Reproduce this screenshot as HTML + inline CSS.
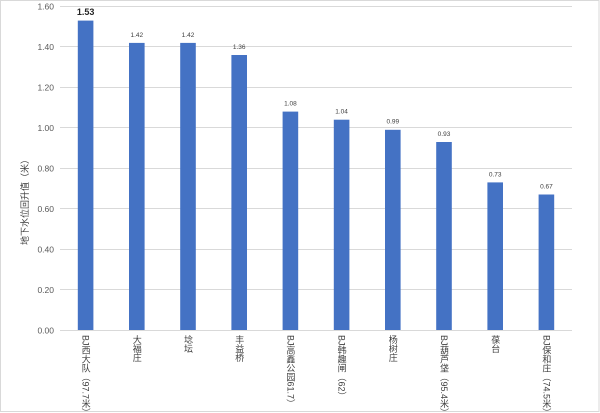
<!DOCTYPE html>
<html><head><meta charset="utf-8">
<style>
html,body{margin:0;padding:0;background:#fff;}
#c{position:relative;width:600px;height:413px;overflow:hidden;font-family:"Liberation Sans","Noto Sans CJK SC",sans-serif;}
.xl{position:absolute;top:335px;writing-mode:vertical-rl;font-size:9px;line-height:10px;color:#404040;width:10px;white-space:nowrap;}
.yt{position:absolute;font-size:9px;color:#404040;}
</style></head><body>
<div id="c">
<svg width="600" height="413" style="position:absolute;left:0;top:0" xmlns="http://www.w3.org/2000/svg" font-family="Liberation Sans, Noto Sans CJK SC, sans-serif">
<rect x="0.5" y="0.5" width="598.5" height="411" fill="#fff" stroke="#d9d9d9" stroke-width="1"/>
<g stroke="#d9d9d9" stroke-width="1">
<line x1="60" x2="572" y1="330.5" y2="330.5"/>
<line x1="60" x2="572" y1="289.5" y2="289.5"/>
<line x1="60" x2="572" y1="249.5" y2="249.5"/>
<line x1="60" x2="572" y1="208.5" y2="208.5"/>
<line x1="60" x2="572" y1="168.5" y2="168.5"/>
<line x1="60" x2="572" y1="127.5" y2="127.5"/>
<line x1="60" x2="572" y1="87.5" y2="87.5"/>
<line x1="60" x2="572" y1="46.5" y2="46.5"/>
<line x1="60" x2="572" y1="6.5" y2="6.5"/>
</g>
<g font-size="8.5" fill="#595959" text-anchor="end">
<text x="54" y="333.5">0.00</text>
<text x="54" y="293">0.20</text>
<text x="54" y="252.5">0.40</text>
<text x="54" y="212">0.60</text>
<text x="54" y="171.5">0.80</text>
<text x="54" y="131">1.00</text>
<text x="54" y="90.5">1.20</text>
<text x="54" y="50">1.40</text>
<text x="54" y="9.5">1.60</text>
</g>
<g fill="#4472C4">
<rect x="77.8" y="20.6" width="15.6" height="309.4"/>
<rect x="129" y="42.9" width="15.6" height="287.1"/>
<rect x="180.2" y="42.9" width="15.6" height="287.1"/>
<rect x="231.4" y="55" width="15.6" height="275"/>
<rect x="282.6" y="111.6" width="15.6" height="218.4"/>
<rect x="333.8" y="119.7" width="15.6" height="210.3"/>
<rect x="385" y="129.8" width="15.6" height="200.2"/>
<rect x="436.2" y="142" width="15.6" height="188"/>
<rect x="487.4" y="182.4" width="15.6" height="147.6"/>
<rect x="538.6" y="194.5" width="15.6" height="135.5"/>
</g>
<text x="85.6" y="15" font-size="9" font-weight="bold" fill="#262626" text-anchor="middle">1.53</text>
<g font-size="6.5" fill="#404040" text-anchor="middle">
<text x="136.8" y="37">1.42</text>
<text x="188" y="37">1.42</text>
<text x="239.2" y="49">1.36</text>
<text x="290.4" y="105.5">1.08</text>
<text x="341.6" y="113.5">1.04</text>
<text x="392.8" y="123.5">0.99</text>
<text x="444" y="136">0.93</text>
<text x="495.2" y="176.5">0.73</text>
<text x="546.4" y="188.5">0.67</text>
</g>
<text transform="translate(28,200) rotate(-90)" font-size="9" fill="#404040" text-anchor="middle">地下水位回升值（米）</text>
</svg>
<div class="xl" style="left:80.6px">BJ西大队（97.7米）</div>
<div class="xl" style="left:131.8px">大福庄</div>
<div class="xl" style="left:183px">埝坛</div>
<div class="xl" style="left:234.2px">丰益桥</div>
<div class="xl" style="left:285.4px">BJ高鑫公园61.7）</div>
<div class="xl" style="left:336.6px">BJ韩趣闸（62）</div>
<div class="xl" style="left:387.8px">杨树庄</div>
<div class="xl" style="left:439px">BJ葫芦垡（95.4米）</div>
<div class="xl" style="left:490.2px">葆台</div>
<div class="xl" style="left:541.4px">BJ保和庄（74.5米）</div>
</div>
</body></html>
